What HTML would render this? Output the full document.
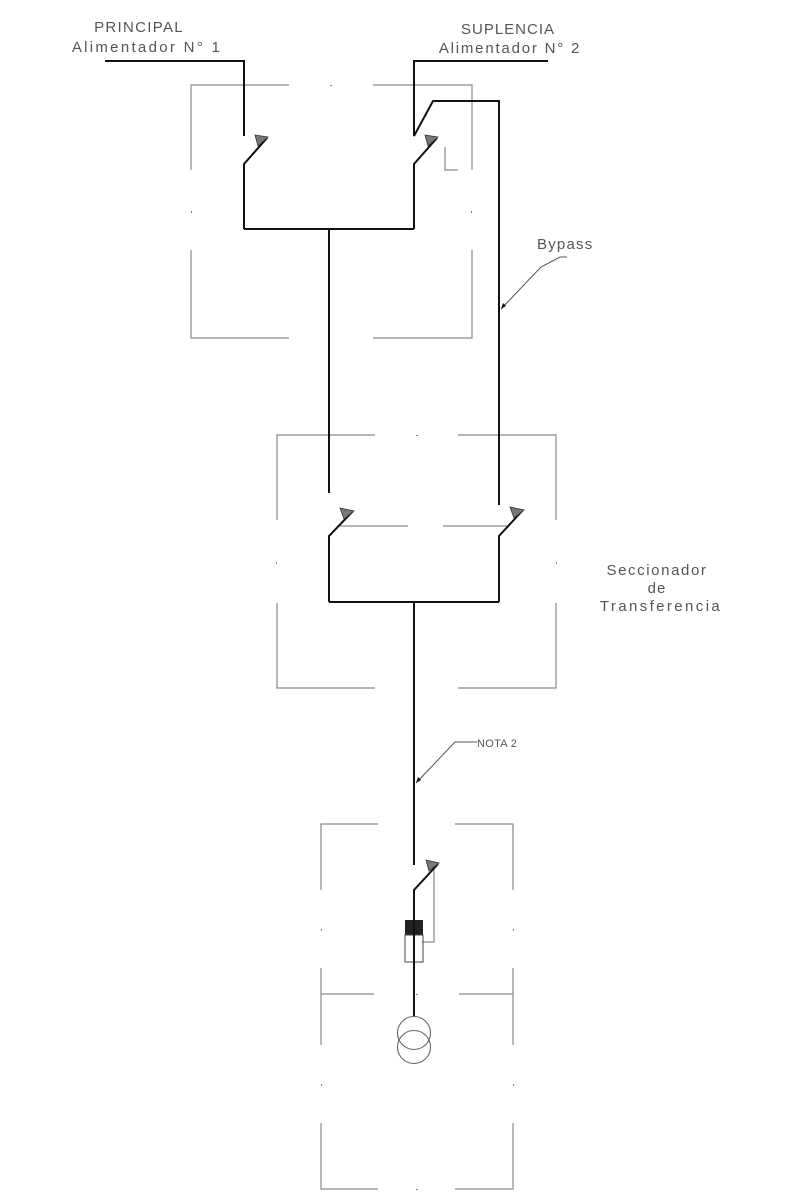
<!DOCTYPE html>
<html><head><meta charset="utf-8"><style>html,body{margin:0;padding:0;background:#fff}svg{display:block}</style></head>
<body>
<svg width="800" height="1200" viewBox="0 0 800 1200" xmlns="http://www.w3.org/2000/svg">
<g fill="none" stroke="#8a8a8a" stroke-width="1.2">
<path d="M191,170 V85 H289 M373,85 H472 V170 M191,250 V338 H289 M373,338 H472 V250"/>
<path d="M445,147 V170 H458"/>
<path d="M277,520 V435 H375 M458,435 H556 V520 M277,603 V688 H375 M458,688 H556 V603"/>
<path d="M340,526 H408 M443,526 H508"/>
<path d="M321,890 V824 H378 M455,824 H513 V890 M321,968 V1045 M513,968 V1045 M321,994 H374 M459,994 H513"/>
<path d="M321,1123 V1189 H378 M455,1189 H513 V1123"/>
<path d="M434,866 V942 H422"/>
</g>
<g fill="#8a8a8a">
<rect x="330" y="85" width="2" height="1"/><rect x="191" y="211" width="1" height="2"/><rect x="471" y="211" width="1" height="2"/>
<rect x="416" y="435" width="2" height="1"/><rect x="276" y="562" width="1" height="2"/><rect x="556" y="562" width="1" height="2"/>
<rect x="321" y="929" width="1" height="2"/><rect x="513" y="929" width="1" height="2"/><rect x="416" y="994" width="2" height="1"/>
<rect x="321" y="1084" width="1" height="2"/><rect x="513" y="1084" width="1" height="2"/><rect x="416" y="1189" width="2" height="1"/>
</g>
<g fill="none" stroke="#111" stroke-width="2">
<path d="M105,61 H244 V136"/>
<path d="M244,229 V164 L267,138"/>
<path d="M548,61 H414 V136 L433,101 H499 V505"/>
<path d="M414,229 V164 L437,138"/>
<path d="M244,229 H414 M329,229 V493"/>
<path d="M329,602 V536 L353,511 M499,602 V536 L523,510 M329,602 H499"/>
<path d="M414,602 V865"/>
<path d="M414,1017 V890 L438,864"/>
</g>
<g fill="#777" stroke="#333" stroke-width="0.8">
<polygon points="255,135 268,137 258,146"/>
<polygon points="425,135 438,137 428,146"/>
<polygon points="340,508 354,511 344,519"/>
<polygon points="510,507 524,510 514,518"/>
<polygon points="426,860 439,863 429,871"/>
</g>
<rect x="405" y="920" width="18" height="15" fill="#222"/>
<rect x="405" y="935" width="18" height="27" fill="none" stroke="#444" stroke-width="1"/>
<line x1="414" y1="920" x2="414" y2="1017" stroke="#111" stroke-width="2"/>
<circle cx="414" cy="1033" r="16.5" fill="none" stroke="#666" stroke-width="1.1"/>
<circle cx="414" cy="1047" r="16.5" fill="none" stroke="#666" stroke-width="1.1"/>
<g fill="none" stroke="#555" stroke-width="1">
<path d="M567,257 H560 L541,267 L501,309"/>
<path d="M477,742 H455 L416,783"/>
</g>
<g fill="#111">
<polygon points="501,309 503,303 506,306"/>
<polygon points="416,783 418,777 421,780"/>
</g>
<g font-family="Liberation Sans, sans-serif" font-size="15" fill="#555">
<text x="139" y="32" text-anchor="middle" letter-spacing="1.3">PRINCIPAL</text>
<text x="147" y="52" text-anchor="middle" letter-spacing="2.3">Alimentador N° 1</text>
<text x="508" y="34" text-anchor="middle" letter-spacing="1">SUPLENCIA</text>
<text x="510" y="53" text-anchor="middle" letter-spacing="1.8">Alimentador N° 2</text>
<text x="537" y="249" letter-spacing="1.2">Bypass</text>
<text x="657" y="575" text-anchor="middle" letter-spacing="1.6">Seccionador</text>
<text x="657" y="593" text-anchor="middle" letter-spacing="1">de</text>
<text x="661" y="611" text-anchor="middle" letter-spacing="2.4">Transferencia</text>
<text x="477" y="747" font-size="11" letter-spacing="0.3">NOTA 2</text>
</g>
</svg>
</body></html>
